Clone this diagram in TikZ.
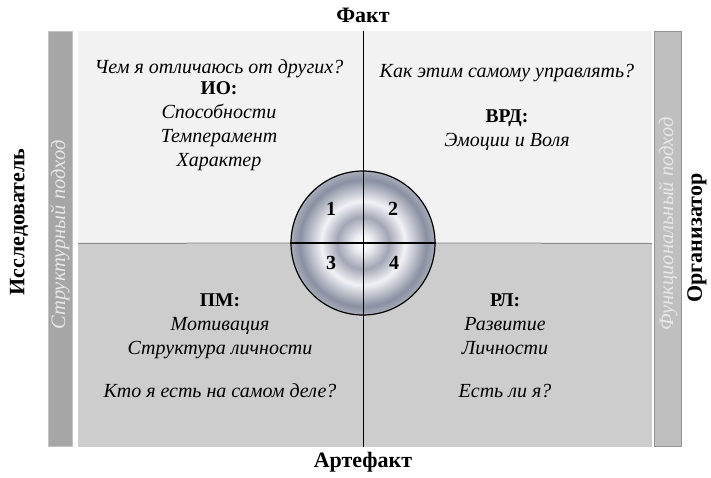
\documentclass[tikz,border=0pt]{standalone}
\usepackage{fontspec}
\setmainfont{Liberation Serif}
\definecolor{topfill}{HTML}{F2F2F2}
\definecolor{botfill}{HTML}{CDCDCD}
\definecolor{leftbar}{HTML}{A6A6A6}
\definecolor{leftbarline}{HTML}{C4C4C4}
\definecolor{rightbar}{HTML}{BFBFBF}
\definecolor{rightbarline}{HTML}{939393}
\definecolor{bartxt}{HTML}{E8E8E8}
\definecolor{ringA}{HTML}{EEEFF3}
\definecolor{ringB}{HTML}{A2A6B5}
\definecolor{ringC}{HTML}{F2F2F6}
\definecolor{ringD}{HTML}{8A90A2}
\definecolor{ringE}{HTML}{A9ADBA}
\pgfdeclareradialshading{rings}{\pgfpoint{0bp}{0bp}}{color(0bp)=(white); color(3bp)=(ringA); color(9bp)=(ringB); color(14.5bp)=(ringC); color(22bp)=(ringD); color(25bp)=(ringE); color(50bp)=(ringE)}
\tikzset{
  title/.style={font=\fontsize{22}{26}\selectfont\bfseries, inner sep=0pt},
  head/.style={font=\fontsize{19.5}{23}\selectfont\bfseries, inner sep=0pt, text height=14pt, text depth=4pt},
  itl/.style={font=\fontsize{20}{24}\selectfont\itshape, inner sep=0pt, text height=14pt, text depth=4pt},
  bartext/.style={font=\fontsize{20.5}{24}\selectfont\itshape, text=bartxt, inner sep=0pt, rotate=90},
  num/.style={font=\fontsize{20}{24}\selectfont\bfseries, inner sep=0pt},
}
\begin{document}
\begin{tikzpicture}[x=1pt,y=-1pt]
\useasboundingbox (0,0) rectangle (711,477);
% panels
\fill[topfill] (78,31) rectangle (652,243.5);
\fill[botfill] (78,243.5) rectangle (652,447);
\draw[leftbarline, fill=leftbar, line width=0.8pt] (48.5,31.5) rectangle (72.5,446.5);
\draw[rightbarline, fill=rightbar, line width=0.8pt] (654.5,31.5) rectangle (681.5,446.5);
% axes
\coordinate (hl) at (78,243.5);
\coordinate (hr) at (652,243.5);
\coordinate (vt) at (363,31);
\coordinate (vb) at (363,447);
\node[circle, minimum size=144pt, inner sep=0pt, shading=rings, draw=black, line width=1.2pt] (c) at (363,243) {};
\draw[gray!90, line width=1pt] (hl) -- (c.west);
\draw[gray!90, line width=1pt] (c.east) -- (hr);
\draw[black, line width=1.2pt] (c.west) -- (c.east);
\draw[black, line width=1pt] (vt) -- (vb);
% numbers
\node[num] (n1) at (331,209) {1};
\node[num] (n2) at (393,209) {2};
\node[num] (n3) at (331,263) {3};
\node[num] (n4) at (394,263) {4};
% outer labels
\node[title] (fakt) at (363,15) {Факт};
\node[title] (artefakt) at (363,462) {Артефакт};
\node[title, rotate=90] (issl) at (19,222) {Исследователь};
\node[title, rotate=90] (org) at (697,238) {Организатор};
\node[bartext] (struct) at (60,235) {Структурный подход};
\node[bartext] (func) at (668,224) {Функциональный подход};
% quadrant 1
\node[itl] (q1a) at (219,68) {Чем я отличаюсь от других?};
\node[head] (q1b) at (219,89) {ИО:};
\node[itl] (q1c) at (219,113) {Способности};
\node[itl] (q1d) at (219,137) {Темперамент};
\node[itl] (q1e) at (219,161) {Характер};
% quadrant 2
\node[itl] (q2a) at (507,72) {Как этим самому управлять?};
\node[head] (q2b) at (507,117) {ВРД:};
\node[itl] (q2c) at (507,141) {Эмоции и Воля};
% quadrant 3
\node[head] (q3a) at (220,301) {ПМ:};
\node[itl] (q3b) at (220,325) {Мотивация};
\node[itl] (q3c) at (220,349) {Структура личности};
\node[itl] (q3d) at (220,392) {Кто я есть на самом деле?};
% quadrant 4
\node[head] (q4a) at (505,301) {РЛ:};
\node[itl] (q4b) at (505,325) {Развитие};
\node[itl] (q4c) at (505,349) {Личности};
\node[itl] (q4d) at (505,392) {Есть ли я?};
\end{tikzpicture}
\end{document}
